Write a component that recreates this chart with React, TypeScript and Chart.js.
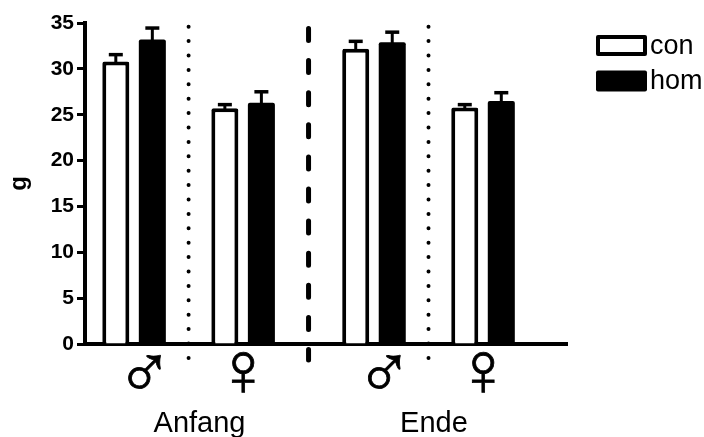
import React, { useEffect, useRef } from "react";
import { Chart, registerables } from "chart.js";

Chart.register(...registerables);

// ---- data ----
const groupLabels = [" ♂", "♀", " ♂", "♀"];
const groupPositions = [1, 2, 3.2, 4.2];
const periodLabels = ["Anfang", "Ende"];
const periodPositions = [1.6, 3.75];
const separatorPositions = [1.5, 2.6, 3.7];
const separatorStyles = ["dotted", "dashed", "dotted"];
const seriesNames = ["con", "hom"];
const conMeans = [30.8, 25.7, 32.2, 25.8];
const conSem = [0.75, 0.4, 0.8, 0.3];
const homMeans = [33.2, 26.3, 32.9, 26.5];
const homSem = [1.25, 1.2, 1.1, 0.9];
const yMin = 0;
const yMax = 35;
const yStep = 5;
const yTitle = "g";

const FONT = "'Liberation Sans', Arial, Helvetica, sans-serif";

const errorBarPlugin = {
  id: "errorBars",
  afterDatasetsDraw(chart: any) {
    const { ctx } = chart;
    const yScale = chart.scales.y;
    chart.data.datasets.forEach((ds: any, di: number) => {
      const meta = chart.getDatasetMeta(di);
      meta.data.forEach((bar: any, i: number) => {
        const mean = ds.data[i].y;
        const err = ds.errors[i];
        const yTop = yScale.getPixelForValue(mean + err);
        ctx.save();
        ctx.strokeStyle = "#000";
        ctx.lineWidth = 3;
        ctx.lineCap = "butt";
        ctx.beginPath();
        ctx.moveTo(bar.x, bar.y + 1);
        ctx.lineTo(bar.x, yTop);
        ctx.stroke();
        ctx.lineWidth = 3.5;
        ctx.beginPath();
        ctx.moveTo(bar.x - 7, yTop);
        ctx.lineTo(bar.x + 7, yTop);
        ctx.stroke();
        ctx.restore();
      });
    });
  },
};

const decorPlugin = {
  id: "decor",
  afterDraw(chart: any) {
    const { ctx, chartArea } = chart;
    const xScale = chart.scales.x;
    ctx.save();
    ctx.strokeStyle = "#000";
    separatorPositions.forEach((p, i) => {
      const x = xScale.getPixelForValue(p);
      ctx.beginPath();
      if (separatorStyles[i] === "dotted") {
        ctx.lineWidth = 4;
        ctx.lineCap = "round";
        ctx.setLineDash([0, 14.4]);
        ctx.moveTo(x, chartArea.top + 3.7);
        ctx.lineTo(x, chartArea.bottom + 16);
      } else {
        ctx.lineWidth = 5;
        ctx.lineCap = "round";
        ctx.setLineDash([12, 20.1]);
        ctx.moveTo(x, chartArea.top + 5.5);
        ctx.lineTo(x, chartArea.bottom + 16);
      }
      ctx.stroke();
    });
    ctx.setLineDash([]);

    // period labels
    ctx.fillStyle = "#000";
    ctx.font = `29px ${FONT}`;
    ctx.textAlign = "center";
    ctx.textBaseline = "alphabetic";
    periodLabels.forEach((t, i) => {
      ctx.fillText(t, xScale.getPixelForValue(periodPositions[i]), chartArea.bottom + 88);
    });

    // legend
    const lx = chartArea.right + 29;
    chart.data.datasets.forEach((ds: any, i: number) => {
      const by = chartArea.top + 12 + i * 35.5;
      const bw = 51;
      const bh = 21;
      const b = 4;
      ctx.fillStyle = "#000";
      ctx.beginPath();
      ctx.roundRect(lx, by, bw, bh, 2);
      ctx.fill();
      if (ds.backgroundColor !== "#000000") {
        ctx.fillStyle = ds.backgroundColor;
        ctx.fillRect(lx + b, by + b, bw - 2 * b, bh - 2 * b);
      }
      ctx.fillStyle = "#000";
      ctx.font = `27px ${FONT}`;
      ctx.textAlign = "left";
      ctx.textBaseline = "middle";
      ctx.fillText(ds.label, lx + bw + 3, by + bh / 2 + 1);
    });
    ctx.restore();
  },
};

export default function App() {
  const ref = useRef<HTMLCanvasElement | null>(null);

  useEffect(() => {
    if (!ref.current) return;
    const chart = new Chart(ref.current, {
      type: "bar",
      data: {
        datasets: [
          {
            label: seriesNames[0],
            data: groupPositions.map((x, i) => ({ x, y: conMeans[i] })),
            errors: conSem,
            backgroundColor: "#ffffff",
            borderColor: "#000000",
            borderWidth: 4,
            borderRadius: { topLeft: 2, topRight: 2, bottomLeft: 0, bottomRight: 0 },
          } as any,
          {
            label: seriesNames[1],
            data: groupPositions.map((x, i) => ({ x, y: homMeans[i] })),
            errors: homSem,
            backgroundColor: "#000000",
            borderColor: "#000000",
            borderWidth: 0,
            borderRadius: { topLeft: 2, topRight: 2, bottomLeft: 0, bottomRight: 0 },
          } as any,
        ],
      },
      options: {
        responsive: false,
        animation: false,
        devicePixelRatio: 1,
        categoryPercentage: 0.67,
        barPercentage: 0.74,
        layout: { padding: { top: 23, right: 137, bottom: 0, left: 0 } },
        plugins: { legend: { display: false }, tooltip: { enabled: false } },
        scales: {
          x: {
            type: "linear",
            offset: false,
            min: 0.55,
            max: 4.97,
            afterBuildTicks: (scale: any) => {
              scale.ticks = groupPositions.map((v) => ({ value: v }));
            },
            afterFit: (scale: any) => {
              scale.height = 93;
            },
            ticks: {
              autoSkip: false,
              maxRotation: 0,
              padding: -8,
              color: "#000",
              textStrokeColor: "#000",
              textStrokeWidth: 0.8,
              font: { family: FONT, size: 76, weight: "bold", lineHeight: 1 },
              callback: (_v: any, i: number) => groupLabels[i],
            },
            grid: { display: true, drawOnChartArea: false, drawTicks: false },
            border: { display: true, width: 4, color: "#000" },
          },
          y: {
            min: yMin,
            max: yMax,
            afterFit: (scale: any) => {
              scale.width = 85;
            },
            ticks: {
              stepSize: yStep,
              padding: 3,
              color: "#000",
              font: { family: FONT, size: 21, weight: "bold" },
            },
            title: {
              display: true,
              text: yTitle,
              color: "#000",
              font: { family: FONT, size: 24, weight: "bold" },
              padding: { top: 5, bottom: 0 },
            },
            grid: {
              drawOnChartArea: false,
              drawTicks: true,
              tickLength: 8,
              tickWidth: 3,
              tickColor: "#000",
            },
            border: { display: true, width: 4, color: "#000" },
          },
        },
      } as any,
      plugins: [errorBarPlugin, decorPlugin],
    });
    return () => chart.destroy();
  }, []);

  return (
    <div style={{ position: "fixed", left: 0, top: 0, width: 704, height: 437, background: "#fff" }}>
      <canvas ref={ref} width={704} height={437} />
    </div>
  );
}
